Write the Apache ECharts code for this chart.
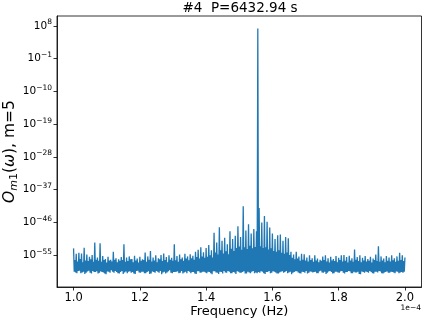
<!DOCTYPE html>
<html>
<head>
<meta charset="utf-8">
<script src="https://cdn.jsdelivr.net/npm/echarts@6/dist/echarts.min.js"></script>
<style>
  html, body { margin: 0; padding: 0; background: #fff; }
  #chart { width: 424px; height: 322px; }
</style>
</head>
<body>
<div id="chart"></div>
<script>
// frequency grid (units of 1e-4 Hz)
const freqStart = 1.0;
const freqStep = 0.002;

// log10 of O_m1(w), one value per grid point
const logPower = [
  -53.1,-59.5,-56.3,-59.7, -54.6,-59.9,-56.7,-59.3, -54.3,-59.2,-56.0,-59.9, -54.5,-59.7,-56.9,-59.5, -52.9,-60.1,-56.4,-59.8,
  -54.8,-59.4,-56.6,-59.2, -55.4,-59.8,-56.1,-60.0, -54.9,-59.3,-56.8,-59.6, -51.5,-59.6,-56.2,-59.4, -55.6,-60.0,-56.5,-59.8,
  -51.7,-59.4,-56.8,-59.6, -55.2,-59.7,-56.3,-60.0, -56.0,-60.2,-57.0,-59.4, -55.4,-59.5,-56.4,-59.8, -56.2,-59.1,-56.7,-59.5,
  -54.0,-59.8,-56.2,-59.3, -55.8,-59.6,-56.9,-59.9, -56.1,-60.0,-56.5,-59.6, -55.5,-59.3,-56.3,-60.1, -52.0,-59.7,-56.8,-59.4,
  -55.6,-59.9,-56.6,-59.5, -55.3,-59.4,-56.1,-59.8, -56.0,-59.6,-56.9,-60.0, -55.1,-60.1,-56.4,-59.3, -55.9,-59.2,-57.0,-59.7,
  -55.4,-59.8,-56.5,-59.5, -56.1,-59.5,-56.3,-59.9, -54.2,-59.9,-56.8,-59.6, -55.3,-59.4,-56.2,-60.1, -53.8,-60.0,-56.7,-59.4,
  -55.6,-59.6,-56.4,-59.8, -55.0,-59.3,-56.9,-59.5, -55.8,-59.8,-56.1,-59.3, -54.9,-60.2,-56.6,-59.7, -54.5,-59.5,-56.3,-60.0,
  -55.5,-59.7,-56.9,-59.4, -55.0,-59.1,-56.2,-59.8, -55.7,-59.9,-56.5,-59.6, -52.0,-59.6,-56.4,-59.5, -55.2,-59.4,-56.8,-59.9,
  -54.8,-59.8,-56.1,-59.3, -55.6,-60.0,-56.5,-59.7, -54.6,-59.5,-55.9,-59.9, -55.3,-59.3,-56.4,-59.5, -54.7,-59.9,-55.8,-59.6,
  -55.1,-59.6,-56.2,-60.0, -54.0,-60.1,-55.5,-59.4, -53.5,-59.4,-55.9,-59.8, -52.8,-59.7,-55.3,-59.5, -54.2,-59.5,-55.7,-59.7,
  -53.0,-59.9,-55.4,-59.5, -52.2,-59.6,-55.0,-59.9, -53.6,-60.2,-55.6,-59.4, -48.8,-59.4,-54.2,-59.7, -51.5,-59.8,-54.8,-60.1,
  -47.3,-59.5,-53.6,-59.6, -51.0,-60.0,-54.5,-59.3, -50.2,-59.7,-53.9,-59.8, -52.0,-59.3,-54.7,-59.5, -48.4,-59.9,-53.2,-59.9,
  -50.5,-59.6,-53.8,-59.7, -49.6,-60.1,-53.0,-59.4, -47.0,-59.5,-52.6,-59.8, -50.0,-59.8,-53.5,-59.6, -41.5,-59.4,-52.8,-60.0,
  -48.2,-60.0,-53.3,-59.5, -46.5,-59.7,-52.4,-59.9, -49.0,-59.5,-53.1,-59.3, -47.8,-59.9,-52.7,-59.7, -48.4,-59.9,7.3,-59.6,
  -42.0,-59.8,-52.5,-59.4, -46.0,-59.5,-53.0,-59.9, -44.2,-60.1,-52.8,-59.6, -45.8,-59.6,-53.4,-59.3, -47.4,-59.9,-53.1,-59.8,
  -49.0,-59.4,-53.8,-59.5, -50.5,-59.7,-54.0,-60.0, -49.5,-60.0,-53.6,-59.7, -49.3,-59.5,-54.3,-59.4, -51.0,-59.8,-54.6,-59.6,
  -50.0,-59.3,-54.2,-59.9, -50.3,-59.7,-54.9,-59.5, -54.0,-60.2,-55.7,-59.8, -54.8,-59.6,-56.1,-59.4, -54.0,-59.4,-55.9,-59.7,
  -55.3,-59.9,-56.5,-60.0, -54.6,-59.5,-56.2,-59.6, -54.7,-59.8,-56.4,-59.3, -55.6,-60.0,-56.7,-59.8, -55.0,-59.4,-56.3,-59.5,
  -55.8,-59.7,-56.8,-59.6, -55.0,-59.5,-56.4,-59.9, -55.9,-59.9,-56.9,-59.4, -56.2,-59.2,-56.5,-59.7, -55.3,-59.8,-56.3,-59.5,
  -55.0,-60.1,-56.7,-59.8, -55.8,-59.4,-57.0,-59.3, -55.4,-59.6,-56.4,-60.0, -56.0,-59.9,-56.6,-59.5, -55.2,-59.5,-56.9,-59.7,
  -55.7,-59.8,-56.3,-59.4, -55.0,-59.3,-56.7,-59.8, -54.9,-60.0,-56.5,-59.6, -55.5,-59.6,-57.0,-59.3, -55.1,-59.4,-56.4,-59.9,
  -55.8,-59.9,-56.8,-59.5, -53.4,-59.7,-56.2,-59.7, -55.5,-59.5,-56.6,-60.1, -55.0,-60.2,-56.9,-59.4, -55.7,-59.6,-56.4,-59.8,
  -55.2,-59.4,-56.7,-59.6, -56.0,-59.8,-56.5,-59.3, -55.4,-59.6,-57.0,-59.9, -55.9,-60.0,-56.3,-59.5, -54.8,-59.5,-56.6,-59.7,
  -52.5,-59.3,-56.8,-59.4, -55.3,-59.9,-56.4,-60.0, -55.9,-59.7,-56.9,-59.6, -55.2,-59.4,-56.5,-59.8, -55.6,-59.8,-56.7,-59.5,
  -55.0,-59.6,-56.4,-59.7, -55.8,-59.9,-56.8,-59.4, -55.3,-59.5,-56.5,-59.9, -54.3,-59.7,-56.3,-59.6, -55.0,-59.8,-56.6,-59.5,
  -55.6
];

const xTicks = [1.0, 1.2, 1.4, 1.6, 1.8, 2.0];
const yTicks = [-55, -46, -37, -28, -19, -10, -1, 8];

const titleText = '#4  P=6432.94 s';
const font = 'DejaVu Sans';

let seriesData = logPower.map((v, i) => [freqStart + freqStep * i, v]);

let chart = echarts.init(document.getElementById('chart'), null, { renderer: 'canvas' });

let option = {
  animation: false,
  backgroundColor: '#fff',
  grid: {
    left: 57,
    right: 2.5,
    top: 16,
    bottom: 35,
    show: true,
    borderColor: '#000',
    borderWidth: 0.8,
    containLabel: false,
    outerBoundsMode: 'none'
  },
  graphic: [
    {
      type: 'text',
      x: 240,
      y: 1.5,
      style: {
        text: titleText,
        align: 'center',
        verticalAlign: 'top',
        font: '13.5px "DejaVu Sans"',
        fill: '#000'
      }
    },
    {
      type: 'text',
      x: 421,
      y: 304,
      style: {
        text: '1e\u22124',
        align: 'right',
        verticalAlign: 'top',
        font: '7.5px "DejaVu Sans"',
        fill: '#000'
      }
    }
  ],
  xAxis: {
    type: 'value',
    min: 0.95,
    max: 2.05,
    name: 'Frequency (Hz)',
    nameLocation: 'middle',
    nameGap: 18,
    nameMoveOverlap: false,
    nameTextStyle: { fontFamily: font, fontSize: 13, color: '#000' },
    axisLine: { onZero: false, lineStyle: { color: '#000', width: 0.8 } },
    axisTick: { customValues: xTicks, length: 3.5, lineStyle: { color: '#000', width: 0.8 } },
    axisLabel: {
      customValues: xTicks,
      margin: 5,
      fontFamily: font,
      fontSize: 11.5,
      color: '#000',
      formatter: v => v.toFixed(1)
    },
    splitLine: { show: false }
  },
  yAxis: {
    type: 'value',
    min: -63.7,
    max: 10.7,
    name: '{it|O}{sub|m}{subn|1}{n|(}{it|\u03c9}{n|), m=5}',
    nameLocation: 'middle',
    nameRotate: 90,
    nameGap: 37,
    nameMoveOverlap: false,
    nameTextStyle: {
      color: '#000',
      rich: {
        it: { fontFamily: font, fontSize: 15.5, fontStyle: 'italic', lineHeight: 20, verticalAlign: 'middle', color: '#000' },
        n: { fontFamily: font, fontSize: 15.5, lineHeight: 20, verticalAlign: 'middle', color: '#000' },
        sub: { fontFamily: font, fontSize: 11, fontStyle: 'italic', lineHeight: 11, verticalAlign: 'bottom', color: '#000' },
        subn: { fontFamily: font, fontSize: 11, lineHeight: 11, verticalAlign: 'bottom', color: '#000' }
      }
    },
    axisLine: { show: true, onZero: false, lineStyle: { color: '#000', width: 0.8 } },
    axisTick: { show: true, customValues: yTicks, length: 3.5, lineStyle: { color: '#000', width: 0.8 } },
    axisLabel: {
      customValues: yTicks,
      margin: 5,
      formatter: v => '{b|10}{s|' + String(v).replace('-', '\u2212') + '}',
      rich: {
        b: { fontFamily: font, fontSize: 10.5, lineHeight: 15, verticalAlign: 'middle', color: '#000' },
        s: { fontFamily: font, fontSize: 7.5, lineHeight: 8, verticalAlign: 'top', color: '#000' }
      }
    },
    splitLine: { show: false }
  },
  series: [
    {
      type: 'line',
      data: seriesData,
      showSymbol: false,
      symbol: 'none',
      sampling: null,
      lineStyle: { color: '#1f77b4', width: 1.3 },
      itemStyle: { color: '#1f77b4' }
    }
  ]
};

chart.setOption(option);
</script>
</body>
</html>
